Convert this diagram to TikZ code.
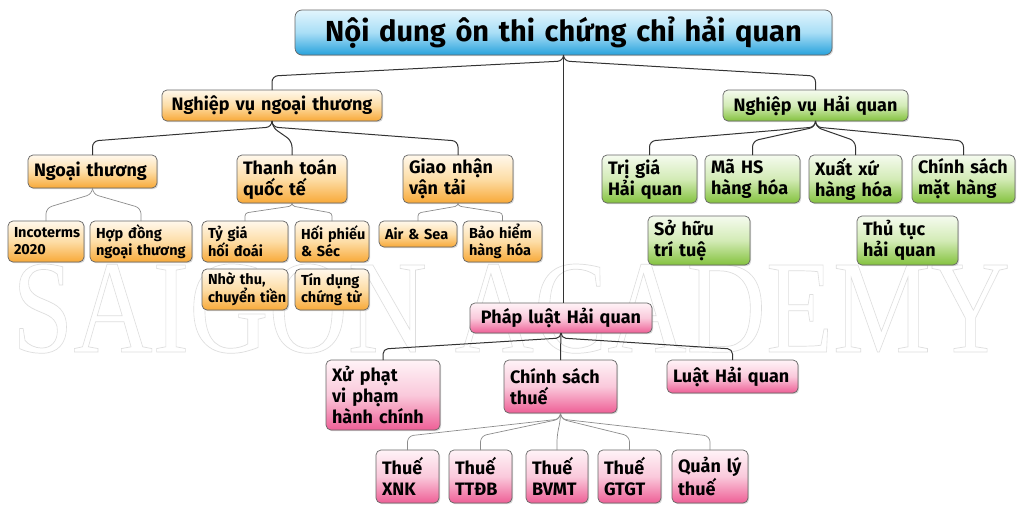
\documentclass[tikz,border=0pt]{standalone}
\usepackage{fontspec}
\setmainfont{Fira Sans}
\newfontfamily\wmfont{Liberation Serif}
\usetikzlibrary{shadows,calc}
\definecolor{orTop}{HTML}{FFF8EC}
\definecolor{orMid}{HTML}{FDDDA6}
\definecolor{orBot}{HTML}{F8A938}
\definecolor{grTop}{HTML}{F5FBEF}
\definecolor{grMid}{HTML}{D3EBB6}
\definecolor{grBot}{HTML}{84C23E}
\definecolor{pkTop}{HTML}{FFF3F7}
\definecolor{pkMid}{HTML}{FAC9DB}
\definecolor{pkBot}{HTML}{EE5F96}
\definecolor{blTop}{HTML}{E2F5FD}
\definecolor{blMid}{HTML}{A9DEF6}
\definecolor{blBot}{HTML}{27A2DC}
\tikzset{
  box/.style={draw=black!60, line width=0.7pt, rounded corners=5pt, text=black,
    inner xsep=6pt, inner ysep=2pt, outer sep=0pt, anchor=north west, align=left,
    drop shadow={shadow xshift=1.2pt, shadow yshift=-1.2pt, opacity=0.3}},
  dims/.code 2 args={\pgfmathsetmacro\boxtw{#1-12}\pgfkeysalso{minimum width=#1pt, minimum height=#2pt, text width=\boxtw pt}},
  orb/.style={box, top color=orTop, bottom color=orBot, middle color=orMid},
  grb/.style={box, top color=grTop, bottom color=grBot, middle color=grMid},
  pkb/.style={box, top color=pkTop, bottom color=pkBot, middle color=pkMid},
  blb/.style={box, rounded corners=7pt, top color=blTop, bottom color=blBot, middle color=blMid},
  ftitle/.style={font=\fontsize{29}{33}\selectfont\bfseries},
  fmain/.style={font=\fontsize{18}{21}\selectfont\bfseries},
  fsmall/.style={font=\fontsize{14.5}{17}\selectfont\bfseries},
  cdark/.style={draw=black!80, line width=1pt},
  clight/.style={draw=black!45, line width=0.7pt},
}
\newcommand\conn[5]{\draw[#1, rounded corners=#4pt] (#2.south) -- ++(0,#4) -- ($(#3.north)+(0,-#5)$) -- (#3.north);}
\begin{document}
\begin{tikzpicture}[x=1pt,y=-1pt]
\useasboundingbox[fill=white] (0,0) rectangle (1024,514);
% watermark
\node[anchor=base west, inner sep=0pt, text=black!7] (wm) at (12,352)
  {\resizebox{998pt}{88pt}{\fontsize{130}{130}\selectfont\wmfont\special{pdf:literal 1 w}\special{pdf:literal direct q 1 Tr 0.7 w 0.87 0.87 0.87 RG}SAIGON ACADEMY\special{pdf:literal 1 w}\special{pdf:literal direct Q}}};
% title
\node[blb, ftitle, dims={537}{45}, align=center] (title) at (295,10) {Nội dung ôn thi chứng chỉ hải quan};
% level 1
\node[orb, fmain, dims={220}{31}, align=center] (nvnt) at (162,90) {Nghiệp vụ ngoại thương};
\node[grb, fmain, dims={185}{31}, align=center] (nvhq) at (723,90) {Nghiệp vụ Hải quan};
\node[pkb, fmain, dims={182}{30}, align=center] (pl) at (470,303) {Pháp luật Hải quan};
% orange level 2
\node[orb, fmain, dims={129}{33}] (ngt) at (28,155) {Ngoại~thương};
\node[orb, fmain, dims={110}{48}] (tt) at (237,155) {Thanh~toán\\quốc~tế};
\node[orb, fmain, dims={110}{48}] (gn) at (403,155) {Giao~nhận\\vận~tải};
% orange level 3
\node[orb, fsmall, dims={76}{41}] (inc) at (8,221) {Incoterms\\2020};
\node[orb, fsmall, dims={102}{41}] (hd) at (90,221) {Hợp~đồng\\ngoại~thương};
\node[orb, fsmall, dims={86}{41}] (tg) at (202,221) {Tỷ~giá\\hối~đoái};
\node[orb, fsmall, dims={74}{41}] (hp) at (295,221) {Hối~phiếu\\\&~Séc};
\node[orb, fsmall, dims={86}{41}] (nt) at (202,269) {Nhờ~thu,\\chuyển~tiền};
\node[orb, fsmall, dims={74}{41}] (td) at (295,269) {Tín~dụng\\chứng~từ};
\node[orb, fsmall, dims={78}{26}] (as) at (379,221) {Air~\&~Sea};
\node[orb, fsmall, dims={79}{41}] (bh) at (463,221) {Bảo~hiểm\\hàng~hóa};
% green level 2
\node[grb, fmain, dims={95}{48}] (tgh) at (602,155) {Trị~giá\\Hải~quan};
\node[grb, fmain, dims={95}{48}] (ma) at (705,155) {Mã~HS\\hàng~hóa};
\node[grb, fmain, dims={93}{48}] (xx) at (809,155) {Xuất~xứ\\hàng~hóa};
\node[grb, fmain, dims={103}{48}] (cs) at (912,155) {Chính~sách\\mặt~hàng};
\node[grb, fmain, dims={102}{49}] (sh) at (648,216) {Sở~hữu\\trí~tuệ};
\node[grb, fmain, dims={101}{49}] (tth) at (857,216) {Thủ~tục\\hải~quan};
% pink level 2
\node[pkb, fmain, dims={114}{70}] (xp) at (326,360) {Xử~phạt\\vi~phạm\\hành~chính};
\node[pkb, fmain, dims={113}{53}] (cst) at (504,360) {Chính~sách\\thuế};
\node[pkb, fmain, dims={131}{33}] (lhq) at (667,360) {Luật~Hải~quan};
% pink level 3
\node[pkb, fmain, dims={63}{53}] (t1) at (376,450) {Thuế\\XNK};
\node[pkb, fmain, dims={63}{53}] (t2) at (449,450) {Thuế\\TTĐB};
\node[pkb, fmain, dims={62}{53}] (t3) at (526,450) {Thuế\\BVMT};
\node[pkb, fmain, dims={63}{53}] (t4) at (598,450) {Thuế\\GTGT};
\node[pkb, fmain, dims={76}{53}] (t5) at (672,450) {Quản~lý\\thuế};
% connectors
\conn{cdark}{title}{nvnt}{6}{14}
\conn{cdark}{title}{nvhq}{6}{14}
\draw[cdark] (title.south) -- (title.south |- pl.north);
\conn{cdark}{nvnt}{ngt}{6}{14}
\conn{cdark}{nvnt}{tt}{6}{14}
\conn{cdark}{nvnt}{gn}{6}{14}
\conn{cdark}{nvhq}{tgh}{6}{14}
\conn{cdark}{nvhq}{ma}{6}{14}
\conn{cdark}{nvhq}{xx}{6}{14}
\conn{cdark}{nvhq}{cs}{6}{14}
\conn{clight}{ngt}{inc}{6}{13}
\conn{clight}{ngt}{hd}{6}{13}
\conn{clight}{tt}{tg}{3}{8}
\conn{clight}{tt}{hp}{3}{8}
\conn{clight}{gn}{as}{3}{8}
\conn{clight}{gn}{bh}{3}{8}
\conn{cdark}{pl}{xp}{5}{11}
\conn{cdark}{pl}{cst}{5}{11}
\conn{cdark}{pl}{lhq}{5}{11}
\conn{clight}{cst}{t1}{6}{14}
\conn{clight}{cst}{t2}{6}{14}
\conn{clight}{cst}{t3}{6}{14}
\conn{clight}{cst}{t4}{6}{14}
\conn{clight}{cst}{t5}{6}{14}
\end{tikzpicture}
\end{document}
